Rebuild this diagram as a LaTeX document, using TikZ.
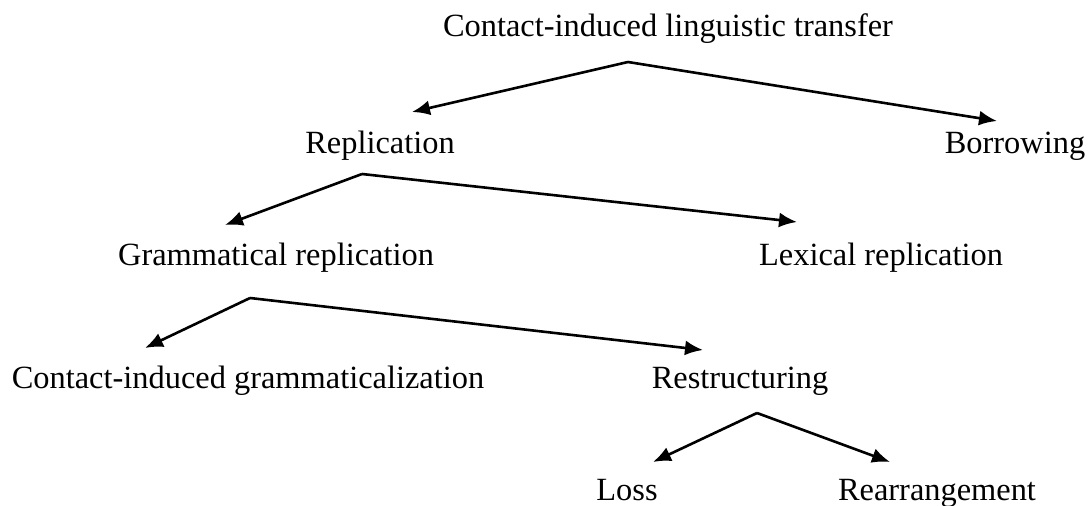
\documentclass[tikz,border=0pt]{standalone}
\usepackage{fontspec}
\setmainfont{Liberation Serif}
\usetikzlibrary{arrows.meta}
\begin{document}
\begin{tikzpicture}[x=1pt,y=-1pt,
  lbl/.style={anchor=base,inner sep=0pt,font=\fontsize{32.4}{38}\selectfont},
  arr/.style={line width=2.6pt,-{Latex[length=18pt,width=15pt]}}]
\useasboundingbox (0,0) rectangle (1090,506);
% labels
\node[lbl] (root) at (668,36) {Contact-induced linguistic transfer};
\node[lbl] (repl) at (380,153) {Replication};
\node[lbl] (borr) at (1015,153) {Borrowing};
\node[lbl] (gram) at (276,265) {Grammatical replication};
\node[lbl] (lex) at (881,265) {Lexical replication};
\node[lbl] (cig) at (248,388) {Contact-induced grammaticalization};
\node[lbl] (restr) at (740,388) {Restructuring};
\node[lbl] (loss) at (627,500) {Loss};
\node[lbl] (rearr) at (937,500) {Rearrangement};
% split points and arrow tips
\coordinate (s1) at (628,62);
\coordinate (t-repl) at (412,112);
\coordinate (t-borr) at (997,121);
\coordinate (s2) at (362,174);
\coordinate (t-gram) at (225,225);
\coordinate (t-lex) at (797,222);
\coordinate (s3) at (250,298);
\coordinate (t-cig) at (145,348);
\coordinate (t-restr) at (703,350);
\coordinate (s4) at (757,413);
\coordinate (t-loss) at (653,462);
\coordinate (t-rearr) at (890,462);
% connectors
\draw[arr] (s1) -- (t-repl);
\draw[arr] (s1) -- (t-borr);
\draw[arr] (s2) -- (t-gram);
\draw[arr] (s2) -- (t-lex);
\draw[arr] (s3) -- (t-cig);
\draw[arr] (s3) -- (t-restr);
\draw[arr] (s4) -- (t-loss);
\draw[arr] (s4) -- (t-rearr);
\end{tikzpicture}
\end{document}
